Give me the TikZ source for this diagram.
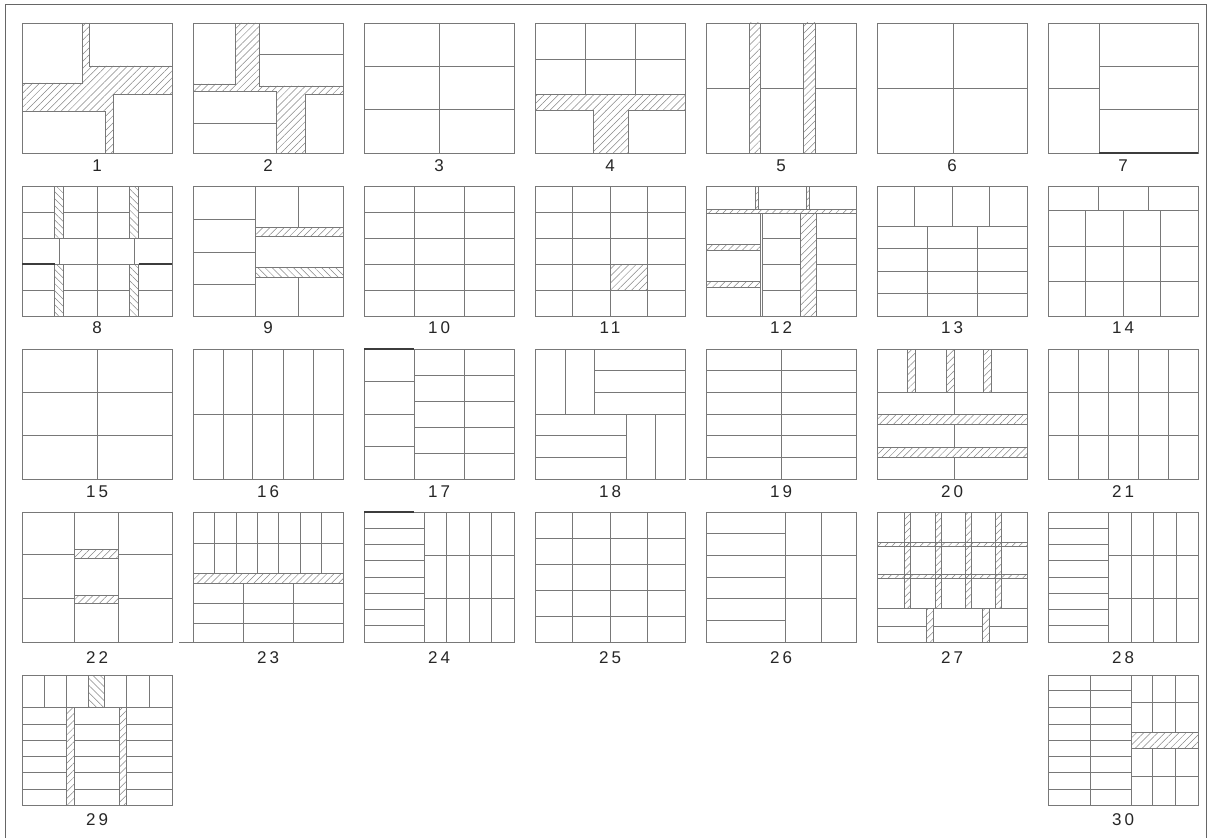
\documentclass[tikz,border=0pt]{standalone}
\usepackage{fontspec}
\newfontfamily\labfont[LetterSpace=18]{Liberation Sans}
\usetikzlibrary{patterns.meta}
\definecolor{lc}{RGB}{120,120,120}
\definecolor{hc}{RGB}{135,135,135}
\tikzset{
 ln/.style={draw=lc, line width=0.8pt},
 thk/.style={draw=lc!50!black, line width=1.4pt},
 hatch/.style={pattern={Lines[angle=45,distance=5pt,line width=0.5pt]}, pattern color=hc},
 hatchb/.style={pattern={Lines[angle=-45,distance=5pt,line width=0.5pt]}, pattern color=hc},
 lab/.style={font=\labfont\fontsize{17}{17}\selectfont, text=black!85, inner sep=0pt},
}
\begin{document}
\begin{tikzpicture}[x=1pt,y=-1pt]
\useasboundingbox (0,0) rectangle (1214,837);
\fill[white] (0,0) rectangle (1214,837);
\draw[draw=black!60, line width=0.9pt] (5,840)--(5,4)--(1206,4)--(1206,840);

% ---------- Panel 1
\begin{scope}[shift={(22,23)}]
\fill[hatch] (60,0)--(67,0)--(67,43)--(150,43)--(150,71)--(91,71)--(91,130)--(83,130)--(83,88)--(0,88)--(0,60)--(60,60)--cycle;
\draw[ln] (0,0) rectangle (150,130);
\draw[ln] (0,60)--(60,60)--(60,0) (67,0)--(67,43)--(150,43)
 (0,88)--(83,88)--(83,130) (150,71)--(91,71)--(91,130);
\node[lab] (l1) at (75,142.5) {1};
\end{scope}

% ---------- Panel 2
\begin{scope}[shift={(193,23)}]
\fill[hatch] (42,0)--(66,0)--(66,63)--(150,63)--(150,71)--(112,71)--(112,130)--(83,130)--(83,68)--(0,68)--(0,61)--(42,61)--cycle;
\draw[ln] (0,0) rectangle (150,130);
\draw[ln] (0,61)--(42,61)--(42,0) (66,0)--(66,63)--(150,63) (66,31)--(150,31)
 (0,68)--(83,68)--(83,130) (0,100)--(83,100) (150,71)--(112,71)--(112,130);
\node[lab] (l2) at (75,142.5) {2};
\end{scope}

% ---------- Panel 3
\begin{scope}[shift={(364,23)}]
\draw[ln] (0,0) rectangle (150,130);
\draw[ln] (75,0)--(75,130) (0,43.3)--(150,43.3) (0,86.7)--(150,86.7);
\node[lab] (l3) at (75,142.5) {3};
\end{scope}

% ---------- Panel 4
\begin{scope}[shift={(535,23)}]
\fill[hatch] (0,71.7) rectangle (150,87.7);
\fill[hatch] (58,87.7) rectangle (93,130);
\draw[ln] (0,0) rectangle (150,130);
\draw[ln] (50,0)--(50,71.7) (100,0)--(100,71.7) (0,36.7)--(150,36.7) (0,71.7)--(150,71.7);
\draw[ln] (0,87.7)--(58,87.7)--(58,130) (150,87.7)--(93,87.7)--(93,130);
\node[lab] (l4) at (75,142.5) {4};
\end{scope}

% ---------- Panel 5
\begin{scope}[shift={(706,23)}]
\fill[hatch] (43,0) rectangle (54.5,130);
\fill[hatch] (97,0) rectangle (109,130);
\draw[ln] (0,0) rectangle (150,130);
\draw[ln] (43,0) rectangle (54.5,130) (97,0) rectangle (109,130);
\draw[ln] (0,65)--(43,65) (54.5,65)--(97,65) (109,65)--(150,65);
\node[lab] (l5) at (75,142.5) {5};
\end{scope}

% ---------- Panel 6
\begin{scope}[shift={(877,23)}]
\draw[ln] (0,0) rectangle (150,130);
\draw[ln] (76,0)--(76,130) (0,65)--(150,65);
\node[lab] (l6) at (75,142.5) {6};
\end{scope}

% ---------- Panel 7
\begin{scope}[shift={(1048,23)}]
\draw[ln] (0,0) rectangle (150,130);
\draw[ln] (51,0)--(51,130) (0,65)--(51,65) (51,43.3)--(150,43.3) (51,86.7)--(150,86.7);
\draw[thk] (51,130)--(150,130);
\node[lab] (l7) at (75,142.5) {7};
\end{scope}

% ---------- Panel 8
\begin{scope}[shift={(22,186)}]
\fill[hatchb] (32.7,0) rectangle (41.7,52);
\fill[hatchb] (32.7,78) rectangle (41.7,130);
\fill[hatchb] (107.7,0) rectangle (116.7,52);
\fill[hatchb] (107.7,78) rectangle (116.7,130);
\draw[ln] (0,0) rectangle (150,130);
\draw[ln] (32.7,0) rectangle (41.7,52) (32.7,78) rectangle (41.7,130)
 (107.7,0) rectangle (116.7,52) (107.7,78) rectangle (116.7,130);
\draw[ln] (75.3,0)--(75.3,130) (0,52)--(150,52) (0,78)--(150,78);
\foreach \y in {26,104} \draw[ln] (0,\y)--(32.7,\y) (41.7,\y)--(107.7,\y) (116.7,\y)--(150,\y);
\draw[ln] (37,52)--(37,78) (112,52)--(112,78);
\draw[thk] (0,78)--(32.7,78) (116.7,78)--(150,78);
\node[lab] (l8) at (75,141.7) {8};
\end{scope}

% ---------- Panel 9
\begin{scope}[shift={(193,186)}]
\fill[hatch] (62.7,41.7) rectangle (150,50);
\fill[hatchb] (62.7,81.7) rectangle (150,91);
\draw[ln] (0,0) rectangle (150,130);
\draw[ln] (62.7,0)--(62.7,130);
\foreach \y in {33.3,66.7,98.3} \draw[ln] (0,\y)--(62.7,\y);
\draw[ln] (105,0)--(105,41.7) (105,91)--(105,130);
\draw[ln] (62.7,41.7) rectangle (150,50) (62.7,81.7) rectangle (150,91);
\node[lab] (l9) at (75,141.7) {9};
\end{scope}

% ---------- Panel 10
\begin{scope}[shift={(364,186)}]
\draw[ln] (0,0) rectangle (150,130);
\draw[ln] (50,0)--(50,130) (100,0)--(100,130);
\foreach \y in {26,52,78,104} \draw[ln] (0,\y)--(150,\y);
\node[lab] (l10) at (75,141.7) {10};
\end{scope}

% ---------- Panel 11
\begin{scope}[shift={(535,186)}]
\fill[hatch] (75,78) rectangle (112.5,104);
\draw[ln] (0,0) rectangle (150,130);
\foreach \x in {37.5,75,112.5} \draw[ln] (\x,0)--(\x,130);
\foreach \y in {26,52,78,104} \draw[ln] (0,\y)--(150,\y);
\node[lab] (l11) at (75,141.7) {11};
\end{scope}

% ---------- Panel 12
\begin{scope}[shift={(706,186)}]
\fill[hatch] (0,23.3) rectangle (150,27.3);
\fill[hatch] (49.5,0) rectangle (52.5,23.3);
\fill[hatch] (100,0) rectangle (103.5,23.3);
\fill[hatch] (0,58.3) rectangle (54,64.3);
\fill[hatch] (0,95) rectangle (54,101);
\fill[hatch] (94.5,27.3) rectangle (110.7,130);
\draw[ln] (0,0) rectangle (150,130);
\draw[ln] (0,23.3) rectangle (150,27.3) (49.5,0) rectangle (52.5,23.3) (100,0) rectangle (103.5,23.3);
\draw[ln] (54,27.3)--(54,130) (56,27.3)--(56,130);
\draw[ln] (0,58.3) rectangle (54,64.3) (0,95) rectangle (54,101);
\draw[ln] (94.5,27.3) rectangle (110.7,130);
\foreach \y in {52.7,78.3,104.3} \draw[ln] (56,\y)--(94.5,\y) (110.7,\y)--(150,\y);
\node[lab] (l12) at (75,141.7) {12};
\end{scope}

% ---------- Panel 13
\begin{scope}[shift={(877,186)}]
\draw[ln] (0,0) rectangle (150,130);
\draw[ln] (0,40)--(150,40);
\foreach \x in {37.5,75,112.5} \draw[ln] (\x,0)--(\x,40);
\foreach \x in {50,100} \draw[ln] (\x,40)--(\x,130);
\foreach \y in {62.5,85,107.5} \draw[ln] (0,\y)--(150,\y);
\node[lab] (l13) at (75,141.7) {13};
\end{scope}

% ---------- Panel 14
\begin{scope}[shift={(1048,186)}]
\draw[ln] (0,0) rectangle (150,130);
\draw[ln] (0,24.3)--(150,24.3);
\foreach \x in {50,100} \draw[ln] (\x,0)--(\x,24.3);
\foreach \x in {37.5,75,112.5} \draw[ln] (\x,24.3)--(\x,130);
\foreach \y in {60,95} \draw[ln] (0,\y)--(150,\y);
\node[lab] (l14) at (75,141.7) {14};
\end{scope}

% ---------- Panel 15
\begin{scope}[shift={(22,349)}]
\draw[ln] (0,0) rectangle (150,130);
\draw[ln] (75,0)--(75,130) (0,43.3)--(150,43.3) (0,86.7)--(150,86.7);
\node[lab] (l15) at (75,143) {15};
\end{scope}

% ---------- Panel 16
\begin{scope}[shift={(193,349)}]
\draw[ln] (0,0) rectangle (150,130);
\foreach \x in {30,59,90,120} \draw[ln] (\x,0)--(\x,130);
\draw[ln] (0,65)--(150,65);
\node[lab] (l16) at (75,143) {16};
\end{scope}

% ---------- Panel 17
\begin{scope}[shift={(364,349)}]
\draw[ln] (0,0) rectangle (150,130);
\draw[ln] (50,0)--(50,130) (100,0)--(100,130);
\foreach \y in {32.5,65,97.5} \draw[ln] (0,\y)--(50,\y);
\foreach \y in {26,52,78,104} \draw[ln] (50,\y)--(150,\y);
\draw[thk] (0,0)--(50,0);
\node[lab] (l17) at (75,143) {17};
\end{scope}

% ---------- Panel 18
\begin{scope}[shift={(535,349)}]
\draw[ln] (0,0) rectangle (150,130);
\draw[ln] (30,0)--(30,65) (59.7,0)--(59.7,65) (0,65)--(150,65);
\draw[ln] (59.7,21.7)--(150,21.7) (59.7,43.3)--(150,43.3);
\draw[ln] (91.3,65)--(91.3,130) (120,65)--(120,130);
\draw[ln] (0,86.7)--(91.3,86.7) (0,108.3)--(91.3,108.3);
\node[lab] (l18) at (75,143) {18};
\end{scope}

% ---------- Panel 19
\begin{scope}[shift={(706,349)}]
\draw[ln] (0,0) rectangle (150,130);
\draw[ln] (75.5,0)--(75.5,130);
\foreach \y in {21.7,43.3,65,86.7,108.3} \draw[ln] (0,\y)--(150,\y);
\draw[ln] (-17,130)--(0,130);
\node[lab] (l19) at (75,143) {19};
\end{scope}

% ---------- Panel 20
\begin{scope}[shift={(877,349)}]
\fill[hatch] (30,0) rectangle (38,43.3);
\fill[hatch] (69,0) rectangle (77,43.3);
\fill[hatch] (106,0) rectangle (114,43.3);
\fill[hatch] (0,65) rectangle (150,75.7);
\fill[hatch] (0,98.3) rectangle (150,108.3);
\draw[ln] (0,0) rectangle (150,130);
\draw[ln] (30,0) rectangle (38,43.3) (69,0) rectangle (77,43.3) (106,0) rectangle (114,43.3);
\draw[ln] (0,43.3)--(150,43.3);
\draw[ln] (0,65) rectangle (150,75.7) (0,98.3) rectangle (150,108.3);
\draw[ln] (77,43.3)--(77,65) (77,75.7)--(77,98.3) (77,108.3)--(77,130);
\node[lab] (l20) at (75,143) {20};
\end{scope}

% ---------- Panel 21
\begin{scope}[shift={(1048,349)}]
\draw[ln] (0,0) rectangle (150,130);
\foreach \x in {30,60,90,120} \draw[ln] (\x,0)--(\x,130);
\foreach \y in {43.3,86.7} \draw[ln] (0,\y)--(150,\y);
\node[lab] (l21) at (75,143) {21};
\end{scope}

% ---------- Panel 22
\begin{scope}[shift={(22,512)}]
\fill[hatch] (52.7,37.7) rectangle (96.7,46);
\fill[hatch] (52.7,83.3) rectangle (96.7,91.7);
\draw[ln] (0,0) rectangle (150,130);
\draw[ln] (52.7,0)--(52.7,130) (96.7,0)--(96.7,130);
\foreach \y in {42.7,86.7} \draw[ln] (0,\y)--(52.7,\y) (96.7,\y)--(150,\y);
\draw[ln] (52.7,37.7) rectangle (96.7,46) (52.7,83.3) rectangle (96.7,91.7);
\node[lab] (l22) at (75,145.3) {22};
\end{scope}

% ---------- Panel 23
\begin{scope}[shift={(193,512)}]
\fill[hatch] (0,61) rectangle (150,71.7);
\draw[ln] (0,0) rectangle (150,130);
\draw[ln] (0,31)--(150,31);
\foreach \x in {21.4,42.9,64.3,85.7,107.1,128.6} \draw[ln] (\x,0)--(\x,61);
\draw[ln] (0,61) rectangle (150,71.7);
\foreach \x in {50,100} \draw[ln] (\x,71.7)--(\x,130);
\foreach \y in {91,111} \draw[ln] (0,\y)--(150,\y);
\draw[ln] (-14,130)--(0,130);
\node[lab] (l23) at (75,145.3) {23};
\end{scope}

% ---------- Panel 24
\begin{scope}[shift={(364,512)}]
\draw[ln] (0,0) rectangle (150,130);
\draw[ln] (60,0)--(60,130);
\foreach \y in {16.3,32.5,48.8,65,81.3,97.5,113.8} \draw[ln] (0,\y)--(60,\y);
\foreach \x in {82.5,105,127.5} \draw[ln] (\x,0)--(\x,130);
\foreach \y in {43.3,86.7} \draw[ln] (60,\y)--(150,\y);
\draw[thk] (0,0)--(50,0);
\node[lab] (l24) at (75,145.3) {24};
\end{scope}

% ---------- Panel 25
\begin{scope}[shift={(535,512)}]
\draw[ln] (0,0) rectangle (150,130);
\foreach \x in {37.5,75,112.5} \draw[ln] (\x,0)--(\x,130);
\foreach \y in {26,52,78,104} \draw[ln] (0,\y)--(150,\y);
\node[lab] (l25) at (75,145.3) {25};
\end{scope}

% ---------- Panel 26
\begin{scope}[shift={(706,512)}]
\draw[ln] (0,0) rectangle (150,130);
\draw[ln] (79,0)--(79,130) (115,0)--(115,130);
\foreach \y in {21.7,65,108.3} \draw[ln] (0,\y)--(79,\y);
\foreach \y in {43.3,86.7} \draw[ln] (0,\y)--(150,\y);
\node[lab] (l26) at (75,145.3) {26};
\end{scope}

% ---------- Panel 27
\begin{scope}[shift={(877,512)}]
\foreach \a/\b in {27/33.5,58/64,88/94,118.5/124.5} \fill[hatch] (\a,0) rectangle (\b,96);
\fill[hatch] (0,30) rectangle (150,34.3);
\fill[hatch] (0,62) rectangle (150,66.7);
\fill[hatch] (49.5,96) rectangle (56,130);
\fill[hatch] (105.5,96) rectangle (112,130);
\draw[ln] (0,0) rectangle (150,130);
\foreach \a/\b in {27/33.5,58/64,88/94,118.5/124.5} \draw[ln] (\a,0) rectangle (\b,96);
\draw[ln] (0,30) rectangle (150,34.3) (0,62) rectangle (150,66.7);
\draw[ln] (0,96)--(150,96);
\draw[ln] (49.5,96) rectangle (56,130) (105.5,96) rectangle (112,130);
\draw[ln] (0,114.3)--(49.5,114.3) (56,114.3)--(105.5,114.3) (112,114.3)--(150,114.3);
\node[lab] (l27) at (75,145.3) {27};
\end{scope}

% ---------- Panel 28
\begin{scope}[shift={(1048,512)}]
\draw[ln] (0,0) rectangle (150,130);
\draw[ln] (60.5,0)--(60.5,130);
\foreach \y in {16.3,32.5,48.8,65,81.3,97.5,113.8} \draw[ln] (0,\y)--(60.5,\y);
\foreach \x in {83.4,105.4,128.2} \draw[ln] (\x,0)--(\x,130);
\foreach \y in {43.3,86.7} \draw[ln] (60.5,\y)--(150,\y);
\node[lab] (l28) at (75,145.3) {28};
\end{scope}

% ---------- Panel 29
\begin{scope}[shift={(22,675)}]
\fill[hatchb] (66.7,0) rectangle (82.7,32.3);
\fill[hatch] (44.3,32.3) rectangle (52.7,130);
\fill[hatch] (97.7,32.3) rectangle (104.3,130);
\draw[ln] (0,0) rectangle (150,130);
\draw[ln] (0,32.3)--(150,32.3);
\foreach \x in {22.7,44.3,104.3,127.7} \draw[ln] (\x,0)--(\x,32.3);
\draw[ln] (66.7,0) rectangle (82.7,32.3);
\draw[ln] (44.3,32.3) rectangle (52.7,130) (97.7,32.3) rectangle (104.3,130);
\foreach \y in {49,65.7,81.7,97.7,114.3} \draw[ln] (0,\y)--(44.3,\y) (52.7,\y)--(97.7,\y) (104.3,\y)--(150,\y);
\node[lab] (l29) at (75,145) {29};
\end{scope}

% ---------- Panel 30
\begin{scope}[shift={(1048,675)}]
\fill[hatch] (83.3,57.3) rectangle (150,73.3);
\draw[ln] (0,0) rectangle (150,130);
\draw[ln] (83.3,0)--(83.3,130) (42,0)--(42,130);
\foreach \y in {15.7,32.3,49,65.7,81.7,97.7,114.3} \draw[ln] (0,\y)--(83.3,\y);
\foreach \x in {104.3,127.7} \draw[ln] (\x,0)--(\x,57.3) (\x,73.3)--(\x,130);
\draw[ln] (83.3,27.3)--(150,27.3) (83.3,101.7)--(150,101.7);
\draw[ln] (83.3,57.3) rectangle (150,73.3);
\node[lab] (l30) at (75,145) {30};
\end{scope}
\end{tikzpicture}
\end{document}
